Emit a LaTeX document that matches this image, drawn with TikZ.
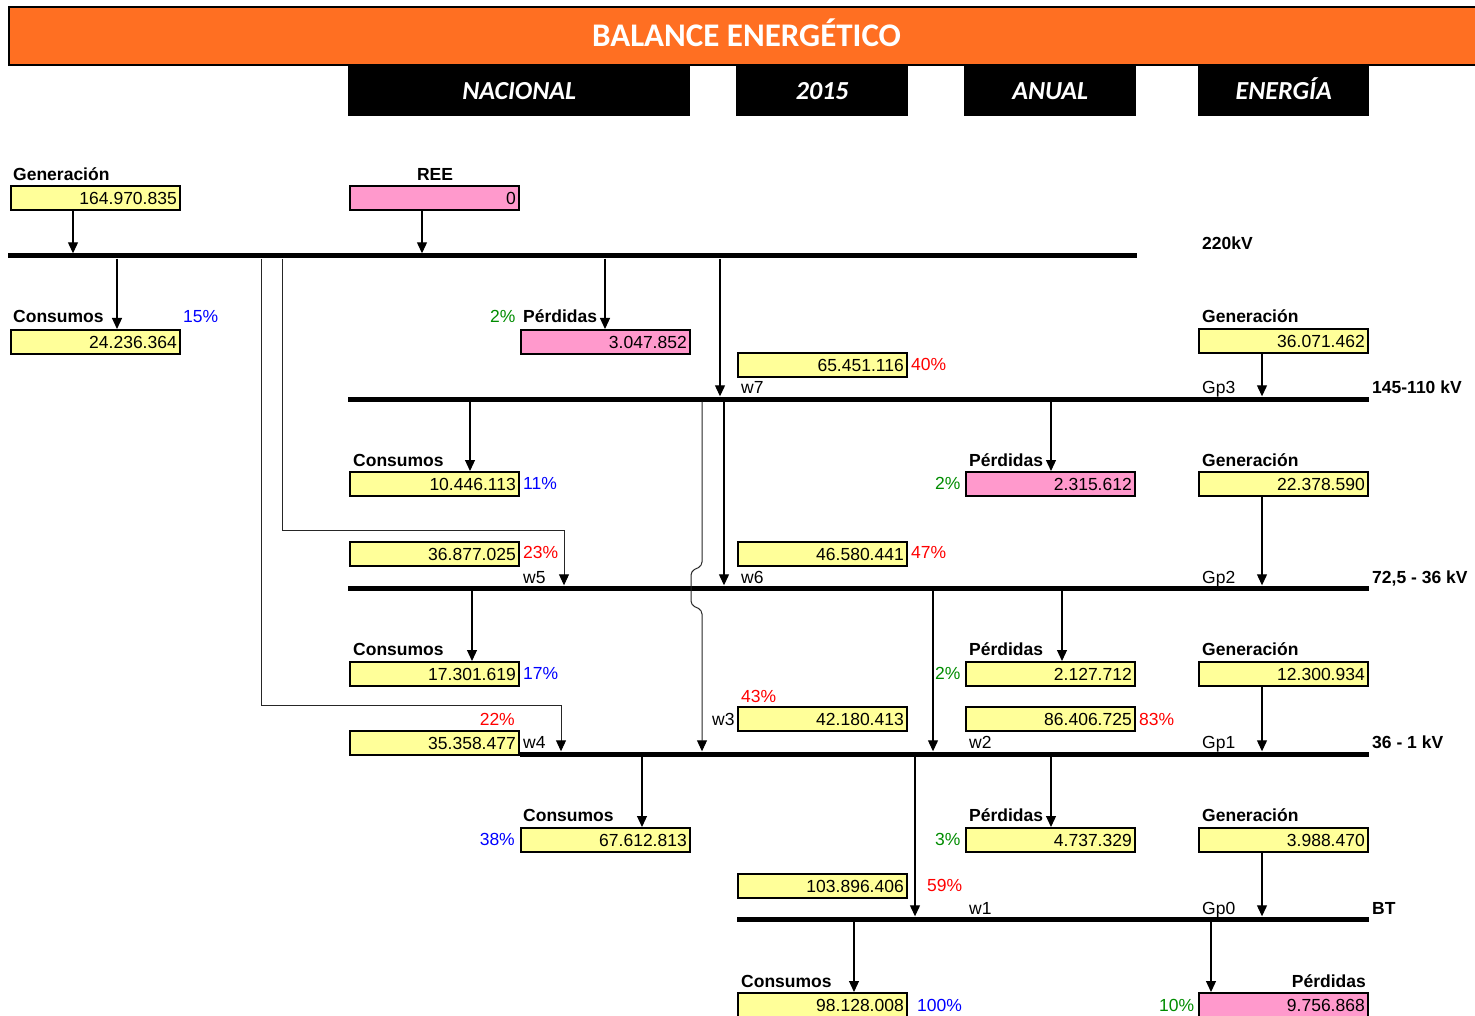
\documentclass[tikz,border=0pt]{standalone}
\usepackage{fontspec}
\setmainfont{Liberation Sans}
\newfontfamily\cabfont{Carlito}
\usetikzlibrary{arrows.meta}
\definecolor{naranja}{RGB}{255,111,34}
\definecolor{amarillo}{RGB}{255,255,153}
\definecolor{rosa}{RGB}{255,153,204}
\definecolor{verde}{RGB}{0,140,0}
\newcommand{\fnum}{\fontsize{17.5}{20}\selectfont}

\begin{document}
\begin{tikzpicture}[x=1pt, y=-1pt,
    val/.style={draw, line width=1.6pt, fill=amarillo, anchor=north west, minimum height=24pt, text width=163pt, inner xsep=3pt, inner ysep=0pt, text height=14pt, text depth=0pt, align=right, font=\fnum},
    perd/.style={val, fill=rosa},
    etq/.style={anchor=base west, inner sep=0pt, font=\fnum\bfseries},
    txt/.style={anchor=base west, inner sep=0pt, font=\fnum},
    azul/.style={txt, text=blue},
    rojo/.style={txt, text=red},
    verd/.style={txt, text=verde},
    barra/.style={fill=black, inner sep=0pt, minimum height=5pt, anchor=west},
    cab/.style={fill=black, text=white, anchor=north west, minimum height=50pt, text height=17pt, text depth=0pt, font=\cabfont\fontsize{26}{30}\selectfont\bfseries\itshape},
    flecha/.style={-{Triangle[width=10pt,length=11pt]}, line width=1.2pt},
    enlace/.style={line width=1pt, draw=black!85, -{Triangle[width=10pt,length=11pt,color=black]}}]
    \useasboundingbox (0,0) rectangle (1475,1016);

    \node[draw, line width=2pt, fill=naranja, text=white, anchor=north west, minimum width=1475pt, minimum height=58pt, text height=21pt, text depth=0pt, font=\cabfont\fontsize{33}{38}\selectfont\bfseries] (titulo) at (8,6) {BALANCE ENERGÉTICO};
    \node[cab, minimum width=342pt] (ambito) at (348,66) {NACIONAL};
    \node[cab, minimum width=172pt] (anio) at (736,66) {2015};
    \node[cab, minimum width=172pt] (periodo) at (964,66) {ANUAL};
    \node[cab, minimum width=171pt] (magnitud) at (1198,66) {ENERGÍA};

    \node[barra, minimum width=1129pt] (b220) at (8,256) {};
    \node[barra, minimum width=1021pt] (b145) at (348,399) {};
    \node[barra, minimum width=1021pt] (b72) at (348,588) {};
    \node[barra, minimum width=849pt] (b36) at (520,754) {};
    \node[barra, minimum width=632pt] (bbt) at (737,919) {};

    \node[etq] (t220) at (1202,250) {220kV};
    \node[etq] (t145) at (1372,393) {145-110 kV};
    \node[etq] (t72) at (1372,583) {72,5 - 36 kV};
    \node[etq] (t36) at (1372,748) {36 - 1 kV};
    \node[etq] (tbt) at (1372,914) {BT};

    % 220 kV
    \node[etq] (lg220) at (13,181) {Generación};
    \node[val] (g220) at (10,185) {164.970.835};
    \node[etq, anchor=base] (lree) at (435,181) {REE};
    \node[perd] (ree) at (349,185) {0};
    \node[etq] (lc220) at (13,323) {Consumos};
    \node[val] (c220) at (10,329) {24.236.364};
    \node[azul] (pc220) at (183,323) {15\%};
    \node[verd] (pp220) at (490,323) {2\%};
    \node[etq] (lp220) at (523,323) {Pérdidas};
    \node[perd] (p220) at (520,329) {3.047.852};
    \node[val] (w7) at (737,352) {65.451.116};
    \node[rojo] (pw7) at (911,370) {40\%};
    \node[txt] (nw7) at (741,393) {w7};
    \node[etq] (lg145) at (1202,323) {Generación};
    \node[val] (g145) at (1198,328) {36.071.462};
    \node[txt] (ng145) at (1202,393) {Gp3};

    % 145-110 kV
    \node[etq] (lc145) at (353,466) {Consumos};
    \node[val] (c145) at (349,471) {10.446.113};
    \node[azul] (pc145) at (523,489) {11\%};
    \node[etq] (lp145) at (969,466) {Pérdidas};
    \node[perd] (p145) at (965,471) {2.315.612};
    \node[verd] (pp145) at (935,489) {2\%};
    \node[etq] (lg72) at (1202,466) {Generación};
    \node[val] (g72) at (1198,471) {22.378.590};
    \node[val] (w5) at (349,541) {36.877.025};
    \node[rojo] (pw5) at (523,558) {23\%};
    \node[txt] (nw5) at (523,583) {w5};
    \node[val] (w6) at (737,541) {46.580.441};
    \node[rojo] (pw6) at (911,558) {47\%};
    \node[txt] (nw6) at (741,583) {w6};
    \node[txt] (ng72) at (1202,583) {Gp2};

    % 72,5 - 36 kV
    \node[etq] (lc72) at (353,655) {Consumos};
    \node[val] (c72) at (349,661) {17.301.619};
    \node[azul] (pc72) at (523,679) {17\%};
    \node[verd] (pp72) at (935,679) {2\%};
    \node[etq] (lp72) at (969,655) {Pérdidas};
    \node[val] (p72) at (965,661) {2.127.712};
    \node[etq] (lg36) at (1202,655) {Generación};
    \node[val] (g36) at (1198,661) {12.300.934};
    \node[rojo, anchor=base east] (pw4) at (515,725) {22\%};
    \node[val] (w4) at (349,730) {35.358.477};
    \node[txt] (nw4) at (523,748) {w4};
    \node[rojo] (pw3) at (741,702) {43\%};
    \node[txt] (nw3) at (712,725) {w3};
    \node[val] (w3) at (737,706) {42.180.413};
    \node[val] (w2) at (965,706) {86.406.725};
    \node[rojo] (pw2) at (1139,725) {83\%};
    \node[txt] (nw2) at (969,748) {w2};
    \node[txt] (ng36) at (1202,748) {Gp1};

    % 36 - 1 kV
    \node[etq] (lc36) at (523,821) {Consumos};
    \node[val] (c36) at (520,827) {67.612.813};
    \node[azul, anchor=base east] (pc36) at (515,845) {38\%};
    \node[etq] (lp36) at (969,821) {Pérdidas};
    \node[val] (p36) at (965,827) {4.737.329};
    \node[verd] (pp36) at (935,845) {3\%};
    \node[etq] (lgbt) at (1202,821) {Generación};
    \node[val] (gbt) at (1198,827) {3.988.470};
    \node[val] (w1) at (737,873) {103.896.406};
    \node[rojo] (pw1) at (927,891) {59\%};
    \node[txt] (nw1) at (969,914) {w1};
    \node[txt] (ngbt) at (1202,914) {Gp0};

    % BT
    \node[etq] (lcbt) at (741,987) {Consumos};
    \node[val] (cbt) at (737,992) {98.128.008};
    \node[azul] (pcbt) at (917,1011) {100\%};
    \node[verd] (ppbt) at (1159,1011) {10\%};
    \node[etq, anchor=base east] (lpbt) at (1366,987) {Pérdidas};
    \node[perd] (pbt) at (1198,992) {9.756.868};

    \coordinate (q5) at (282,530);
    \coordinate (r5) at (564,530);
    \coordinate (q4) at (261,705);
    \coordinate (r4) at (561,705);
    \coordinate (h3) at (702,566);

    \draw[flecha] ([xshift=63pt]g220.south west) -- ([xshift=63pt]g220.south west |- b220.north);
    \draw[flecha] ([xshift=73pt]ree.south west) -- ([xshift=73pt]ree.south west |- b220.north);
    \draw[flecha] ([xshift=107pt]c220.north west |- b220.south) -- ([xshift=107pt]c220.north west);
    \draw[flecha] ([xshift=85pt]p220.north west |- b220.south) -- ([xshift=85pt]p220.north west);
    \draw[flecha] ([xshift=-17pt]w7.north west |- b220.south) -- ([xshift=-17pt]w7.north west |- b145.north);
    \draw[flecha] ([xshift=64pt]g145.south west) -- ([xshift=64pt]g145.south west |- b145.north);

    \draw[flecha] ([xshift=121pt]c145.north west |- b145.south) -- ([xshift=121pt]c145.north west);
    \draw[flecha] ([xshift=86pt]p145.north west |- b145.south) -- ([xshift=86pt]p145.north west);
    \draw[flecha] ([xshift=64pt]g72.south west) -- ([xshift=64pt]g72.south west |- b72.north);
    \draw[enlace] (q5 |- b220.south) -- (q5) -- (r5) -- (r5 |- b72.north);
    \draw[flecha] ([xshift=-13pt]w6.north west |- b145.south) -- ([xshift=-13pt]w6.north west |- b72.north);

    \draw[flecha] ([xshift=123pt]c72.north west |- b72.south) -- ([xshift=123pt]c72.north west);
    \draw[flecha] ([xshift=97pt]p72.north west |- b72.south) -- ([xshift=97pt]p72.north west);
    \draw[flecha] ([xshift=64pt]g36.south west) -- ([xshift=64pt]g36.south west |- b36.north);
    \draw[enlace] (q4 |- b220.south) -- (q4) -- (r4) -- (r4 |- b36.north);
    \draw[enlace, rounded corners=4pt] (h3 |- b145.south) -- (h3) -- ++(-11,5) -- ++(0,34) -- ++(11,5) -- (h3 |- b36.north);
    \draw[flecha] ([xshift=-32pt]w2.north west |- b72.south) -- ([xshift=-32pt]w2.north west |- b36.north);

    \draw[flecha] ([xshift=122pt]c36.north west |- b36.south) -- ([xshift=122pt]c36.north west);
    \draw[flecha] ([xshift=86pt]p36.north west |- b36.south) -- ([xshift=86pt]p36.north west);
    \draw[flecha] ([xshift=64pt]gbt.south west) -- ([xshift=64pt]gbt.south west |- bbt.north);
    \draw[flecha] ([xshift=178pt]w1.north west |- b36.south) -- ([xshift=178pt]w1.north west |- bbt.north);

    \draw[flecha] ([xshift=117pt]cbt.north west |- bbt.south) -- ([xshift=117pt]cbt.north west);
    \draw[flecha] ([xshift=13pt]pbt.north west |- bbt.south) -- ([xshift=13pt]pbt.north west);
\end{tikzpicture}
\end{document}
